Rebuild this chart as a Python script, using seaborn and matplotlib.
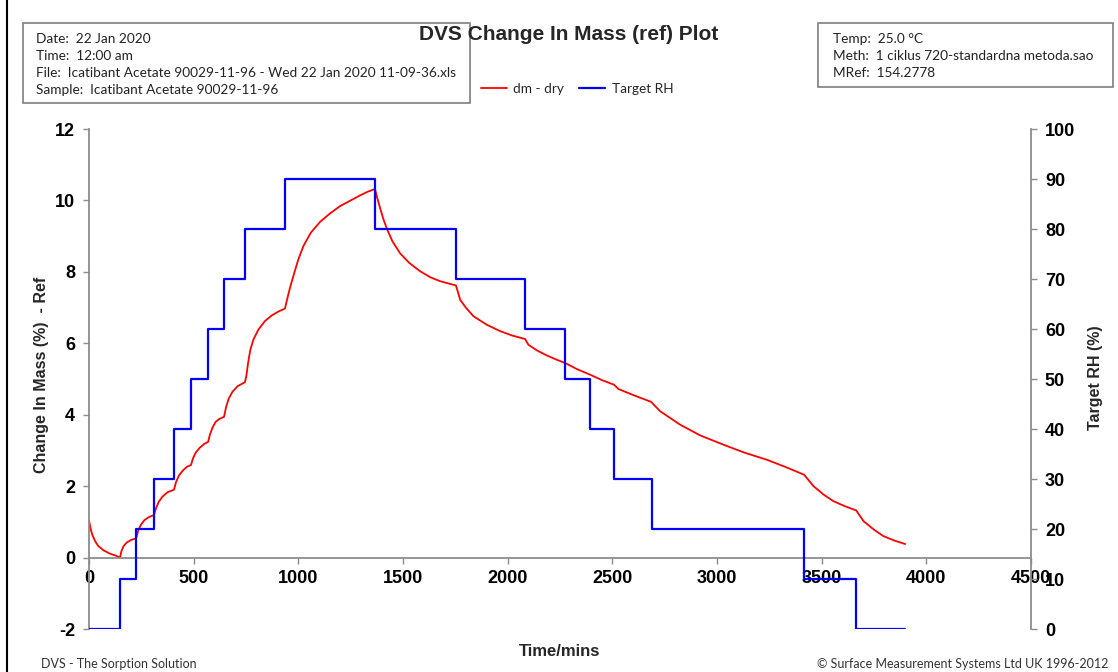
import matplotlib
matplotlib.use("Agg")
import matplotlib.pyplot as plt
from matplotlib.patches import Rectangle
from matplotlib.lines import Line2D
import seaborn as sns

# Change in mass (dm - dry, %)
time_mins = [0, 8, 15, 30, 45, 70, 100, 130, 148,
             155, 165, 180, 200, 225,
             235, 248, 265, 285, 310,
             320, 333, 350, 375, 406,
             416, 430, 450, 470, 487,
             497, 510, 530, 550, 569,
             578, 590, 605, 625, 645,
             655, 668, 685, 710, 745,
             752, 760, 770, 785, 809, 840, 873, 905, 936,
             945, 960, 976, 1000, 1024, 1060, 1104, 1150, 1199, 1250, 1295, 1330, 1366,
             1378, 1390, 1405, 1422, 1450, 1486, 1530, 1581, 1630, 1677, 1720, 1753,
             1773, 1800, 1836, 1900, 1964, 2020, 2083,
             2099, 2140, 2187, 2230, 2274,
             2330, 2394, 2450, 2508,
             2529, 2600, 2685,
             2728, 2824, 2920, 3031, 3130, 3238, 3330, 3416,
             3461, 3510, 3556, 3610, 3665,
             3700, 3750, 3795, 3850, 3899]
dm_dry = [1.04, 0.80, 0.65, 0.45, 0.32, 0.20, 0.11, 0.05, 0.00,
          0.18, 0.32, 0.42, 0.49, 0.54,
          0.75, 0.92, 1.05, 1.13, 1.19,
          1.38, 1.56, 1.70, 1.83, 1.90,
          2.12, 2.30, 2.45, 2.55, 2.59,
          2.78, 2.94, 3.08, 3.18, 3.24,
          3.45, 3.64, 3.80, 3.89, 3.94,
          4.22, 4.46, 4.64, 4.80, 4.91,
          5.10, 5.45, 5.80, 6.10, 6.38, 6.62, 6.78, 6.89, 6.97,
          7.20, 7.55, 7.88, 8.35, 8.72, 9.10, 9.40, 9.63, 9.84, 10.00, 10.14, 10.24, 10.32,
          10.05, 9.80, 9.50, 9.22, 8.85, 8.52, 8.25, 8.02, 7.85, 7.74, 7.67, 7.62,
          7.22, 7.00, 6.76, 6.52, 6.34, 6.22, 6.12,
          5.96, 5.80, 5.66, 5.55, 5.45,
          5.28, 5.12, 4.97, 4.84,
          4.72, 4.55, 4.36,
          4.10, 3.72, 3.42, 3.16, 2.94, 2.74, 2.53, 2.32,
          2.00, 1.76, 1.58, 1.44, 1.32,
          1.02, 0.78, 0.60, 0.47, 0.38]

# Target RH steps (start time of each step, RH %)
rh_time = [0, 148, 225, 310, 406, 487, 569, 645, 745, 936, 1366, 1753, 2083, 2274,
           2394, 2508, 2690, 3416, 3665, 3899]
rh_target = [0, 10, 20, 30, 40, 50, 60, 70, 80, 90, 80, 70, 60, 50, 40, 30, 20, 10, 0, 0]

info_left = ["Date:  22 Jan 2020",
             "Time:  12:00 am",
             "File:  Icatibant Acetate 90029-11-96 - Wed 22 Jan 2020 11-09-36.xls",
             "Sample:  Icatibant Acetate 90029-11-96"]
info_right = ["Temp:  25.0 °C",
              "Meth:  1 ciklus 720-standardna metoda.sao",
              "MRef:  154.2778"]

sns.set_theme(style="white")
plt.rcParams['font.family'] = ['Liberation Sans', 'DejaVu Sans']
plt.rcParams['axes.unicode_minus'] = False

W, H = 1118, 672
axis_grey = '#8c8c8c'


def fx(px):
    return px / W


def fy(py):
    return 1 - py / H


fig = plt.figure(figsize=(11.18, 6.72), dpi=100)
ax = fig.add_axes([fx(89), fy(629), (1031 - 89) / W, (629 - 129) / H])
ax2 = ax.twinx()

sns.lineplot(x=time_mins, y=dm_dry, ax=ax, color='#ff0000', lw=1.3,
             estimator=None, sort=False, label='dm - dry', legend=False)
sns.lineplot(x=rh_time, y=rh_target, ax=ax2, color='#0000ff', lw=1.6,
             drawstyle='steps-post', estimator=None, sort=False,
             label='Target RH', legend=False)

ax.set_xlim(0, 4500)
ax.set_ylim(-2, 12)
ax2.set_ylim(0, 100)
ax.set_xticks(range(0, 4501, 500))
ax.set_yticks(range(-2, 13, 2))
ax2.set_yticks(range(0, 101, 10))

for s in ['top', 'right']:
    ax.spines[s].set_visible(False)
for s in ['top', 'left', 'bottom']:
    ax2.spines[s].set_visible(False)
ax.spines['bottom'].set_position(('data', 0))
for sp in [ax.spines['left'], ax.spines['bottom'], ax2.spines['right']]:
    sp.set_color(axis_grey)
    sp.set_linewidth(1.3)

ax.tick_params(axis='x', direction='out', length=4, width=1, color=axis_grey,
               pad=5, labelsize=13, bottom=True)
ax.tick_params(axis='y', direction='out', length=4, width=1, color=axis_grey,
               pad=6, labelsize=13, left=True)
ax2.tick_params(axis='y', direction='out', length=4, width=1, color=axis_grey,
                pad=6, labelsize=13, right=True)
for lab in ax.get_xticklabels() + ax.get_yticklabels() + ax2.get_yticklabels():
    lab.set_fontweight('bold')
    lab.set_color('black')

ax.set_xlabel('Time/mins', fontsize=12, fontweight='bold', va='center')
ax.xaxis.set_label_coords(0.5, -0.044)
ax.set_ylabel('Change In Mass (%)  - Ref', fontsize=11.5, fontweight='bold',
              va='center', ha='center')
ax.yaxis.set_label_coords(-0.05, 0.508)
ax2.set_ylabel('Target RH (%)', fontsize=11.5, fontweight='bold',
               va='center', ha='center')
ax2.yaxis.set_label_coords(1.068, 0.502)

# title
fig.text(fx(569), fy(35), 'DVS Change In Mass (ref) Plot', fontsize=15,
         fontweight='bold', ha='center', va='center', zorder=5)

# info boxes
box_font = ['Lato', 'DejaVu Sans']
fig.add_artist(Rectangle((fx(23), fy(103)), (470 - 23) / W, (103 - 23) / H,
                         transform=fig.transFigure, fill=False,
                         edgecolor='#7f7f7f', lw=1.2))
for i, line in enumerate(info_left):
    fig.text(fx(36), fy(39 + 17 * i), line, family=box_font, fontsize=9.8,
             ha='left', va='center', color='#222222')
fig.add_artist(Rectangle((fx(818), fy(87)), (1113 - 818) / W, (87 - 23) / H,
                         transform=fig.transFigure, fill=False,
                         edgecolor='#7f7f7f', lw=1.2))
for i, line in enumerate(info_right):
    fig.text(fx(833), fy(39 + 17 * i), line, family=box_font, fontsize=9.8,
             ha='left', va='center', color='#222222')

# legend
handles = [ax.get_lines()[0], ax2.get_lines()[0]]
fig.legend(handles, ['dm - dry', 'Target RH'], loc='center left',
           bbox_to_anchor=(fx(474), fy(89)), ncol=2, frameon=False,
           borderpad=0, handlelength=1.9, handletextpad=0.5, columnspacing=1.1,
           prop={'family': box_font, 'size': 9.8})

# footer
fig.text(fx(41), fy(664), 'DVS - The Sorption Solution', family=box_font,
         fontsize=9, ha='left', va='center', color='#333333')
fig.text(fx(1108), fy(664), '\u00a9 Surface Measurement Systems Ltd UK 1996-2012',
         family=box_font, fontsize=9, ha='right', va='center', color='#333333')

# left frame edge
fig.add_artist(Line2D([fx(7), fx(7)], [0, 1], transform=fig.transFigure,
                      color='black', lw=1.5))

fig.savefig('out.png', dpi=100)
